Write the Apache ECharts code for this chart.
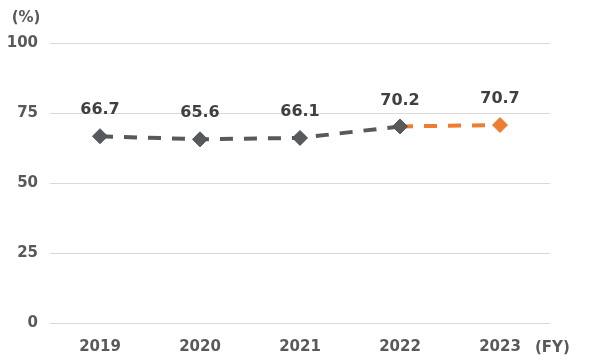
<!DOCTYPE html>
<html><head><meta charset="utf-8">
<script src="https://cdn.jsdelivr.net/npm/echarts@6/dist/echarts.min.js"></script>
<style>html,body{margin:0;padding:0;background:#fff}#c{width:600px;height:362px}</style>
</head><body><div id="c"></div>
<script>
const categories = ['2019','2020','2021','2022','2023'];
const actualValues = [66.7, 65.6, 66.1, 70.2, null];
const targetValues = [null, null, null, 70.2, 70.7];
const yTicks = [0, 25, 50, 75, 100];

const font = '"DejaVu Sans", Verdana, sans-serif';
const chart = echarts.init(document.getElementById('c'), null, {renderer: 'canvas'});
chart.setOption({
  animation: false,
  grid: {left: 50, right: 50, top: 43, bottom: 39},
  xAxis: {
    type: 'category', data: categories, boundaryGap: true,
    name: '(FY)', nameLocation: 'end', nameGap: -15,
    nameTextStyle: {color: '#595959', fontFamily: font, fontWeight: 'bold', fontSize: 15, verticalAlign: 'top', padding: [18, 0, 0, 0]},
    axisLine: {show: true, lineStyle: {color: '#d9d9d9', width: 1}},
    axisTick: {show: false},
    axisLabel: {color: '#595959', fontFamily: font, fontWeight: 'bold', fontSize: 15, margin: 17}
  },
  yAxis: {
    type: 'value', min: 0, max: 100, interval: 25,
    name: '(%)', nameLocation: 'end', nameGap: 17,
    nameTextStyle: {color: '#595959', fontFamily: font, fontWeight: 'bold', fontSize: 15, align: 'center', padding: [0, 48, 0, 0]},
    axisLine: {show: false}, axisTick: {show: false},
    splitLine: {lineStyle: {color: '#d9d9d9', width: 1}},
    axisLabel: {color: '#595959', fontFamily: font, fontWeight: 'bold', fontSize: 15, margin: 12,
      formatter: v => yTicks.includes(v) ? String(v) : ''}
  },
  series: [
    {
      type: 'line', z: 2,
      data: targetValues.map((v, i) => i === 3 ? {value: v, symbol: 'none', label: {show: false}} : v),
      connectNulls: false,
      symbol: 'diamond', symbolSize: 15,
      lineStyle: {color: '#ED7D31', width: 4, type: [13, 11]},
      itemStyle: {color: '#ED7D31', borderColor: '#ED7D31', borderWidth: 1},
      label: {show: true, position: 'top', distance: 10, color: '#404040', fontFamily: font, fontWeight: 'bold', fontSize: 16}
    },
    {
      type: 'line', z: 3,
      data: actualValues,
      symbol: 'diamond', symbolSize: 15,
      lineStyle: {color: '#595959', width: 4, type: [13, 11]},
      itemStyle: {color: '#595959', borderColor: '#44546A', borderWidth: 1},
      label: {show: true, position: 'top', distance: 10, color: '#404040', fontFamily: font, fontWeight: 'bold', fontSize: 16}
    }
  ]
});
</script></body></html>
